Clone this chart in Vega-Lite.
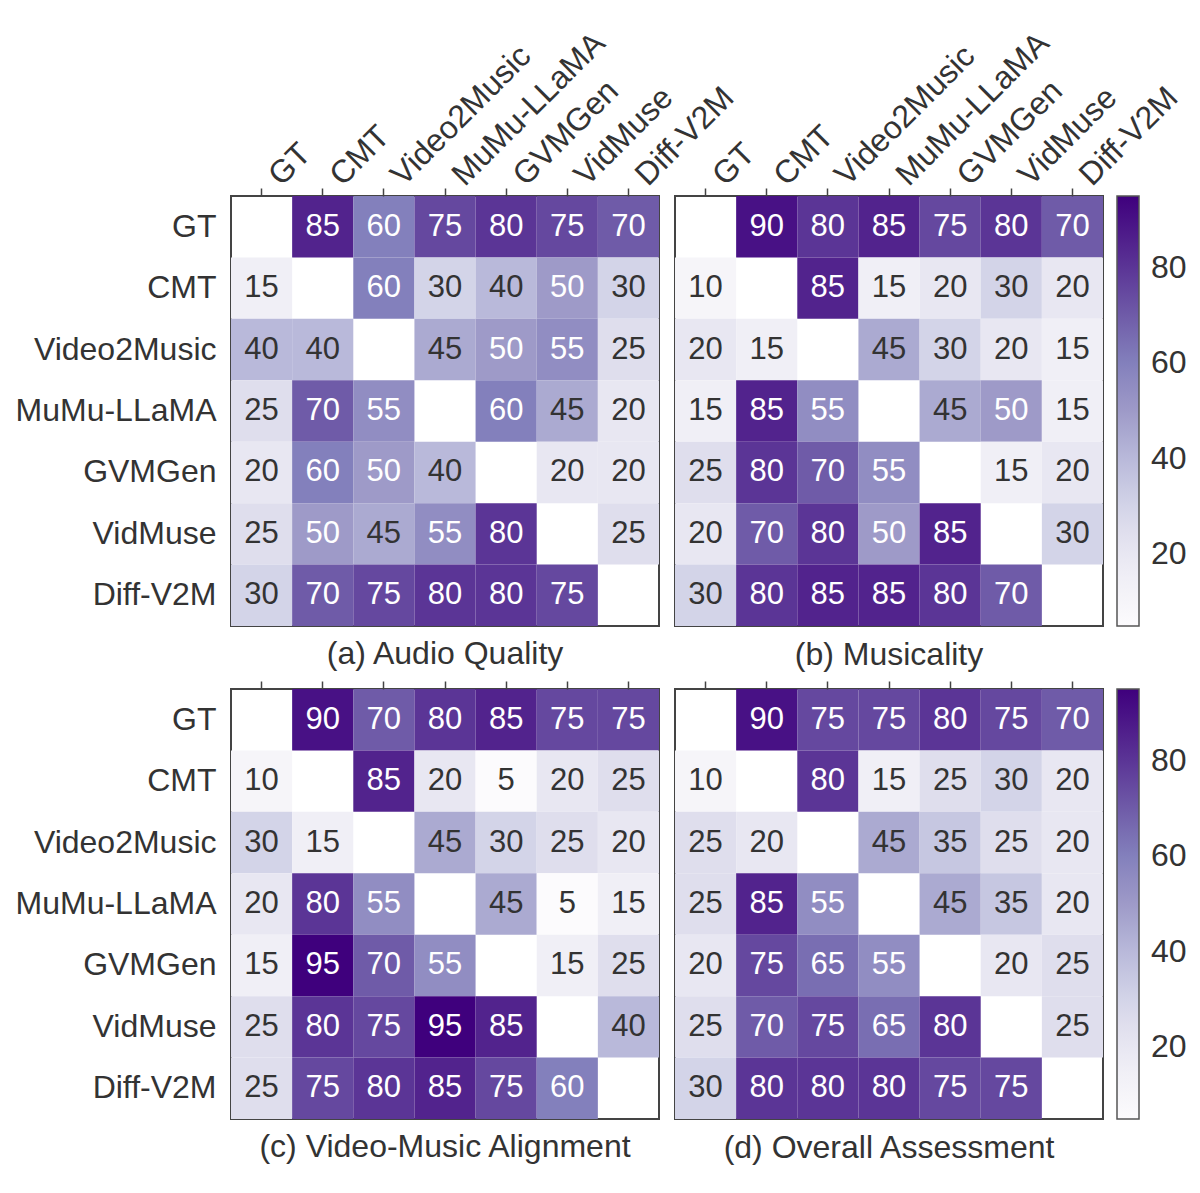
{
  "$schema": "https://vega.github.io/schema/vega-lite/v6.json",
  "background": "white",
  "padding": {"left": 14, "top": 25, "right": 5, "bottom": 5},
  "datasets": {
    "a": [
      {"r":"GT","c":"CMT","v":85},{"r":"GT","c":"Video2Music","v":60},{"r":"GT","c":"MuMu-LLaMA","v":75},{"r":"GT","c":"GVMGen","v":80},{"r":"GT","c":"VidMuse","v":75},{"r":"GT","c":"Diff-V2M","v":70},
      {"r":"CMT","c":"GT","v":15},{"r":"CMT","c":"Video2Music","v":60},{"r":"CMT","c":"MuMu-LLaMA","v":30},{"r":"CMT","c":"GVMGen","v":40},{"r":"CMT","c":"VidMuse","v":50},{"r":"CMT","c":"Diff-V2M","v":30},
      {"r":"Video2Music","c":"GT","v":40},{"r":"Video2Music","c":"CMT","v":40},{"r":"Video2Music","c":"MuMu-LLaMA","v":45},{"r":"Video2Music","c":"GVMGen","v":50},{"r":"Video2Music","c":"VidMuse","v":55},{"r":"Video2Music","c":"Diff-V2M","v":25},
      {"r":"MuMu-LLaMA","c":"GT","v":25},{"r":"MuMu-LLaMA","c":"CMT","v":70},{"r":"MuMu-LLaMA","c":"Video2Music","v":55},{"r":"MuMu-LLaMA","c":"GVMGen","v":60},{"r":"MuMu-LLaMA","c":"VidMuse","v":45},{"r":"MuMu-LLaMA","c":"Diff-V2M","v":20},
      {"r":"GVMGen","c":"GT","v":20},{"r":"GVMGen","c":"CMT","v":60},{"r":"GVMGen","c":"Video2Music","v":50},{"r":"GVMGen","c":"MuMu-LLaMA","v":40},{"r":"GVMGen","c":"VidMuse","v":20},{"r":"GVMGen","c":"Diff-V2M","v":20},
      {"r":"VidMuse","c":"GT","v":25},{"r":"VidMuse","c":"CMT","v":50},{"r":"VidMuse","c":"Video2Music","v":45},{"r":"VidMuse","c":"MuMu-LLaMA","v":55},{"r":"VidMuse","c":"GVMGen","v":80},{"r":"VidMuse","c":"Diff-V2M","v":25},
      {"r":"Diff-V2M","c":"GT","v":30},{"r":"Diff-V2M","c":"CMT","v":70},{"r":"Diff-V2M","c":"Video2Music","v":75},{"r":"Diff-V2M","c":"MuMu-LLaMA","v":80},{"r":"Diff-V2M","c":"GVMGen","v":80},{"r":"Diff-V2M","c":"VidMuse","v":75}
    ],
    "b": [
      {"r":"GT","c":"CMT","v":90},{"r":"GT","c":"Video2Music","v":80},{"r":"GT","c":"MuMu-LLaMA","v":85},{"r":"GT","c":"GVMGen","v":75},{"r":"GT","c":"VidMuse","v":80},{"r":"GT","c":"Diff-V2M","v":70},
      {"r":"CMT","c":"GT","v":10},{"r":"CMT","c":"Video2Music","v":85},{"r":"CMT","c":"MuMu-LLaMA","v":15},{"r":"CMT","c":"GVMGen","v":20},{"r":"CMT","c":"VidMuse","v":30},{"r":"CMT","c":"Diff-V2M","v":20},
      {"r":"Video2Music","c":"GT","v":20},{"r":"Video2Music","c":"CMT","v":15},{"r":"Video2Music","c":"MuMu-LLaMA","v":45},{"r":"Video2Music","c":"GVMGen","v":30},{"r":"Video2Music","c":"VidMuse","v":20},{"r":"Video2Music","c":"Diff-V2M","v":15},
      {"r":"MuMu-LLaMA","c":"GT","v":15},{"r":"MuMu-LLaMA","c":"CMT","v":85},{"r":"MuMu-LLaMA","c":"Video2Music","v":55},{"r":"MuMu-LLaMA","c":"GVMGen","v":45},{"r":"MuMu-LLaMA","c":"VidMuse","v":50},{"r":"MuMu-LLaMA","c":"Diff-V2M","v":15},
      {"r":"GVMGen","c":"GT","v":25},{"r":"GVMGen","c":"CMT","v":80},{"r":"GVMGen","c":"Video2Music","v":70},{"r":"GVMGen","c":"MuMu-LLaMA","v":55},{"r":"GVMGen","c":"VidMuse","v":15},{"r":"GVMGen","c":"Diff-V2M","v":20},
      {"r":"VidMuse","c":"GT","v":20},{"r":"VidMuse","c":"CMT","v":70},{"r":"VidMuse","c":"Video2Music","v":80},{"r":"VidMuse","c":"MuMu-LLaMA","v":50},{"r":"VidMuse","c":"GVMGen","v":85},{"r":"VidMuse","c":"Diff-V2M","v":30},
      {"r":"Diff-V2M","c":"GT","v":30},{"r":"Diff-V2M","c":"CMT","v":80},{"r":"Diff-V2M","c":"Video2Music","v":85},{"r":"Diff-V2M","c":"MuMu-LLaMA","v":85},{"r":"Diff-V2M","c":"GVMGen","v":80},{"r":"Diff-V2M","c":"VidMuse","v":70}
    ],
    "c": [
      {"r":"GT","c":"CMT","v":90},{"r":"GT","c":"Video2Music","v":70},{"r":"GT","c":"MuMu-LLaMA","v":80},{"r":"GT","c":"GVMGen","v":85},{"r":"GT","c":"VidMuse","v":75},{"r":"GT","c":"Diff-V2M","v":75},
      {"r":"CMT","c":"GT","v":10},{"r":"CMT","c":"Video2Music","v":85},{"r":"CMT","c":"MuMu-LLaMA","v":20},{"r":"CMT","c":"GVMGen","v":5},{"r":"CMT","c":"VidMuse","v":20},{"r":"CMT","c":"Diff-V2M","v":25},
      {"r":"Video2Music","c":"GT","v":30},{"r":"Video2Music","c":"CMT","v":15},{"r":"Video2Music","c":"MuMu-LLaMA","v":45},{"r":"Video2Music","c":"GVMGen","v":30},{"r":"Video2Music","c":"VidMuse","v":25},{"r":"Video2Music","c":"Diff-V2M","v":20},
      {"r":"MuMu-LLaMA","c":"GT","v":20},{"r":"MuMu-LLaMA","c":"CMT","v":80},{"r":"MuMu-LLaMA","c":"Video2Music","v":55},{"r":"MuMu-LLaMA","c":"GVMGen","v":45},{"r":"MuMu-LLaMA","c":"VidMuse","v":5},{"r":"MuMu-LLaMA","c":"Diff-V2M","v":15},
      {"r":"GVMGen","c":"GT","v":15},{"r":"GVMGen","c":"CMT","v":95},{"r":"GVMGen","c":"Video2Music","v":70},{"r":"GVMGen","c":"MuMu-LLaMA","v":55},{"r":"GVMGen","c":"VidMuse","v":15},{"r":"GVMGen","c":"Diff-V2M","v":25},
      {"r":"VidMuse","c":"GT","v":25},{"r":"VidMuse","c":"CMT","v":80},{"r":"VidMuse","c":"Video2Music","v":75},{"r":"VidMuse","c":"MuMu-LLaMA","v":95},{"r":"VidMuse","c":"GVMGen","v":85},{"r":"VidMuse","c":"Diff-V2M","v":40},
      {"r":"Diff-V2M","c":"GT","v":25},{"r":"Diff-V2M","c":"CMT","v":75},{"r":"Diff-V2M","c":"Video2Music","v":80},{"r":"Diff-V2M","c":"MuMu-LLaMA","v":85},{"r":"Diff-V2M","c":"GVMGen","v":75},{"r":"Diff-V2M","c":"VidMuse","v":60}
    ],
    "d": [
      {"r":"GT","c":"CMT","v":90},{"r":"GT","c":"Video2Music","v":75},{"r":"GT","c":"MuMu-LLaMA","v":75},{"r":"GT","c":"GVMGen","v":80},{"r":"GT","c":"VidMuse","v":75},{"r":"GT","c":"Diff-V2M","v":70},
      {"r":"CMT","c":"GT","v":10},{"r":"CMT","c":"Video2Music","v":80},{"r":"CMT","c":"MuMu-LLaMA","v":15},{"r":"CMT","c":"GVMGen","v":25},{"r":"CMT","c":"VidMuse","v":30},{"r":"CMT","c":"Diff-V2M","v":20},
      {"r":"Video2Music","c":"GT","v":25},{"r":"Video2Music","c":"CMT","v":20},{"r":"Video2Music","c":"MuMu-LLaMA","v":45},{"r":"Video2Music","c":"GVMGen","v":35},{"r":"Video2Music","c":"VidMuse","v":25},{"r":"Video2Music","c":"Diff-V2M","v":20},
      {"r":"MuMu-LLaMA","c":"GT","v":25},{"r":"MuMu-LLaMA","c":"CMT","v":85},{"r":"MuMu-LLaMA","c":"Video2Music","v":55},{"r":"MuMu-LLaMA","c":"GVMGen","v":45},{"r":"MuMu-LLaMA","c":"VidMuse","v":35},{"r":"MuMu-LLaMA","c":"Diff-V2M","v":20},
      {"r":"GVMGen","c":"GT","v":20},{"r":"GVMGen","c":"CMT","v":75},{"r":"GVMGen","c":"Video2Music","v":65},{"r":"GVMGen","c":"MuMu-LLaMA","v":55},{"r":"GVMGen","c":"VidMuse","v":20},{"r":"GVMGen","c":"Diff-V2M","v":25},
      {"r":"VidMuse","c":"GT","v":25},{"r":"VidMuse","c":"CMT","v":70},{"r":"VidMuse","c":"Video2Music","v":75},{"r":"VidMuse","c":"MuMu-LLaMA","v":65},{"r":"VidMuse","c":"GVMGen","v":80},{"r":"VidMuse","c":"Diff-V2M","v":25},
      {"r":"Diff-V2M","c":"GT","v":30},{"r":"Diff-V2M","c":"CMT","v":80},{"r":"Diff-V2M","c":"Video2Music","v":80},{"r":"Diff-V2M","c":"MuMu-LLaMA","v":80},{"r":"Diff-V2M","c":"GVMGen","v":75},{"r":"Diff-V2M","c":"VidMuse","v":75}
    ]
  },
  "vconcat": [
    {
      "hconcat": [
        {
          "width": 428, "height": 430,
          "data": {"name": "a"},
          "title": {"text": "(a) Audio Quality", "orient": "bottom"},
          "encoding": {
            "x": {"field": "c", "type": "nominal", "scale": {"domain": ["GT","CMT","Video2Music","MuMu-LLaMA","GVMGen","VidMuse","Diff-V2M"]}, "axis": {"orient": "top", "labelAngle": -45, "labelAlign": "left", "labelBaseline": "top", "labelPadding": 19, "labelOffset": 2}},
            "y": {"field": "r", "type": "nominal", "scale": {"domain": ["GT","CMT","Video2Music","MuMu-LLaMA","GVMGen","VidMuse","Diff-V2M"]}, "axis": {"ticks": false, "labelPadding": 15}}
          },
          "layer": [
            {"mark": "rect", "encoding": {"color": {"field": "v", "type": "quantitative", "scale": {"domain": [5, 16.25, 27.5, 38.75, 50, 61.25, 72.5, 83.75, 95], "range": ["#fcfbfd","#efedf5","#dadaeb","#bcbddc","#9e9ac8","#807dba","#6a51a3","#54278f","#3f007d"], "interpolate": "rgb"}, "legend": null}}},
            {"mark": {"type": "text", "fontSize": 31}, "encoding": {"text": {"field": "v", "type": "quantitative"}, "color": {"condition": {"test": "datum.v >= 50", "value": "white"}, "value": "#333"}}}
          ]
        },
        {
          "width": 428, "height": 430,
          "data": {"name": "b"},
          "title": {"text": "(b) Musicality", "orient": "bottom"},
          "encoding": {
            "x": {"field": "c", "type": "nominal", "scale": {"domain": ["GT","CMT","Video2Music","MuMu-LLaMA","GVMGen","VidMuse","Diff-V2M"]}, "axis": {"orient": "top", "labelAngle": -45, "labelAlign": "left", "labelBaseline": "top", "labelPadding": 19, "labelOffset": 2}},
            "y": {"field": "r", "type": "nominal", "scale": {"domain": ["GT","CMT","Video2Music","MuMu-LLaMA","GVMGen","VidMuse","Diff-V2M"]}, "axis": null}
          },
          "layer": [
            {"mark": "rect", "encoding": {"color": {"field": "v", "type": "quantitative", "scale": {"domain": [5, 16.25, 27.5, 38.75, 50, 61.25, 72.5, 83.75, 95], "range": ["#fcfbfd","#efedf5","#dadaeb","#bcbddc","#9e9ac8","#807dba","#6a51a3","#54278f","#3f007d"], "interpolate": "rgb"}, "legend": {"values": [20, 40, 60, 80], "labelOffset": 12}}}},
            {"mark": {"type": "text", "fontSize": 31}, "encoding": {"text": {"field": "v", "type": "quantitative"}, "color": {"condition": {"test": "datum.v >= 50", "value": "white"}, "value": "#333"}}}
          ]
        }
      ],
      "spacing": 16,
      "bounds": "flush",
      "resolve": {"scale": {"color": "independent"}, "legend": {"color": "independent"}}
    },
    {
      "hconcat": [
        {
          "width": 428, "height": 430,
          "data": {"name": "c"},
          "title": {"text": "(c) Video-Music Alignment", "orient": "bottom"},
          "encoding": {
            "x": {"field": "c", "type": "nominal", "scale": {"domain": ["GT","CMT","Video2Music","MuMu-LLaMA","GVMGen","VidMuse","Diff-V2M"]}, "axis": {"orient": "top", "labels": false}},
            "y": {"field": "r", "type": "nominal", "scale": {"domain": ["GT","CMT","Video2Music","MuMu-LLaMA","GVMGen","VidMuse","Diff-V2M"]}, "axis": {"ticks": false, "labelPadding": 15}}
          },
          "layer": [
            {"mark": "rect", "encoding": {"color": {"field": "v", "type": "quantitative", "scale": {"domain": [5, 16.25, 27.5, 38.75, 50, 61.25, 72.5, 83.75, 95], "range": ["#fcfbfd","#efedf5","#dadaeb","#bcbddc","#9e9ac8","#807dba","#6a51a3","#54278f","#3f007d"], "interpolate": "rgb"}, "legend": null}}},
            {"mark": {"type": "text", "fontSize": 31}, "encoding": {"text": {"field": "v", "type": "quantitative"}, "color": {"condition": {"test": "datum.v >= 50", "value": "white"}, "value": "#333"}}}
          ]
        },
        {
          "width": 428, "height": 430,
          "data": {"name": "d"},
          "title": {"text": "(d) Overall Assessment", "orient": "bottom"},
          "encoding": {
            "x": {"field": "c", "type": "nominal", "scale": {"domain": ["GT","CMT","Video2Music","MuMu-LLaMA","GVMGen","VidMuse","Diff-V2M"]}, "axis": {"orient": "top", "labels": false}},
            "y": {"field": "r", "type": "nominal", "scale": {"domain": ["GT","CMT","Video2Music","MuMu-LLaMA","GVMGen","VidMuse","Diff-V2M"]}, "axis": null}
          },
          "layer": [
            {"mark": "rect", "encoding": {"color": {"field": "v", "type": "quantitative", "scale": {"domain": [5, 16.25, 27.5, 38.75, 50, 61.25, 72.5, 83.75, 95], "range": ["#fcfbfd","#efedf5","#dadaeb","#bcbddc","#9e9ac8","#807dba","#6a51a3","#54278f","#3f007d"], "interpolate": "rgb"}, "legend": {"values": [20, 40, 60, 80], "labelOffset": 12}}}},
            {"mark": {"type": "text", "fontSize": 31}, "encoding": {"text": {"field": "v", "type": "quantitative"}, "color": {"condition": {"test": "datum.v >= 50", "value": "white"}, "value": "#333"}}}
          ]
        }
      ],
      "spacing": 16,
      "bounds": "flush",
      "resolve": {"scale": {"color": "independent"}, "legend": {"color": "independent"}}
    }
  ],
  "spacing": 7,
  "resolve": {"scale": {"color": "independent"}, "legend": {"color": "independent"}},
  "config": {
    "font": "Liberation Sans",
    "view": {"stroke": "#444", "strokeWidth": 2},
    "scale": {"bandPaddingInner": 0, "bandPaddingOuter": 0},
    "axis": {"title": null, "domain": false, "grid": false, "labelFontSize": 32, "labelLimit": 0, "labelColor": "#333", "tickColor": "#444", "tickSize": 8, "tickWidth": 1.5, "labelFont": "Liberation Sans"},
    "legend": {"title": null, "gradientLength": 430, "gradientThickness": 22, "labelFontSize": 32, "labelColor": "#333", "offset": 14, "gradientStrokeColor": "#555", "gradientStrokeWidth": 1.5, "labelLimit": 80, "direction": "vertical"},
    "title": {"fontSize": 32, "fontWeight": "normal", "color": "#333", "offset": 13, "font": "Liberation Sans"}
  }
}
